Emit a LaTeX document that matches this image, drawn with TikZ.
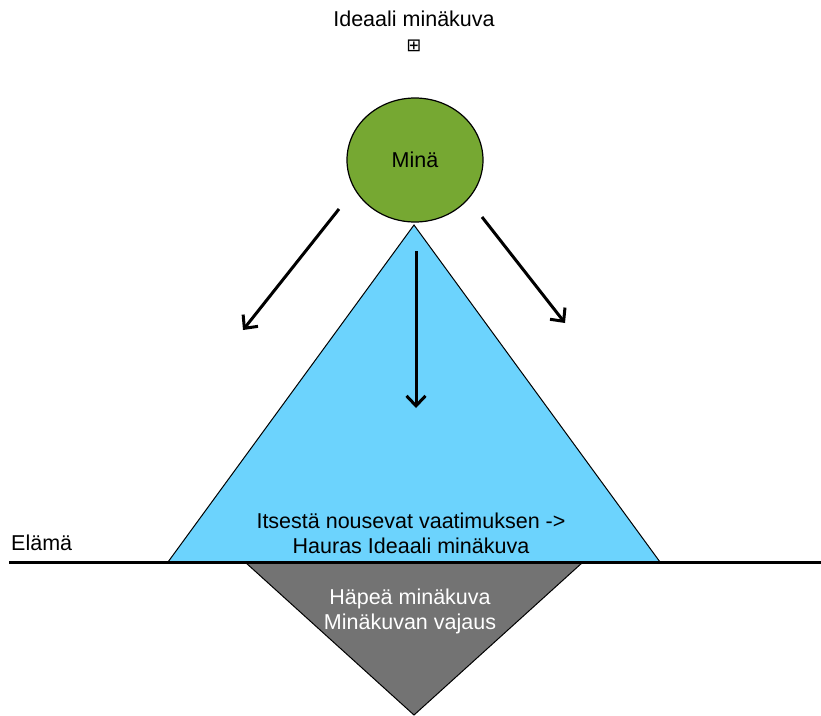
\documentclass[tikz,border=0pt]{standalone}
\usepackage{fontspec}
\setmainfont{Liberation Sans}
\newfontfamily\glyphfont{DejaVu Sans}
\usetikzlibrary{positioning,arrows.meta,shapes.geometric}
\definecolor{minagreen}{RGB}{118,168,50}
\definecolor{idealblue}{RGB}{108,211,253}
\definecolor{shamegray}{RGB}{115,115,115}
\tikzset{
  x=1pt,y=-1pt,
  >={Straight Barb[length=10pt,width=19pt]},
  lbl/.style={font=\fontsize{21.5}{25}\selectfont,inner sep=1pt,align=center},
  self/.style={ellipse,draw=black,line width=1.2pt,fill=minagreen,
    minimum width=136pt,minimum height=124pt,inner sep=0pt,
    font=\fontsize{21.5}{25}\selectfont},
  push/.style={->,line width=3pt},
  tri/.style={draw=black,line width=1pt},
  ground/.style={line width=3pt},
}
\begin{document}
\begin{tikzpicture}
  \useasboundingbox (0,0) rectangle (821,715);
  % triangles
  \fill[shamegray] (245,562) -- (583,562) -- (414,715) -- cycle;
  \draw[tri] (245,562) -- (414,715) -- (583,562);
  \draw[tri,fill=idealblue] (414,225) -- (660,562) -- (168,562) -- cycle;
  \coordinate (lifeL) at (9,562);
  \coordinate (lifeR) at (821,562);
  \draw[ground] (lifeL) -- (lifeR);
  % labels
  \node[lbl] (ideal) at (414,19) {Ideaali minäkuva};
  \node[inner sep=0pt,font=\glyphfont\fontsize{18}{18}\selectfont] (plus)
    at (414,46) {⊞};
  \node[self] (mina) at (415,160) {Minä};
  \node[lbl,anchor=west] (life) at (10,543) {Elämä};
  \node[lbl] (demand) at (411,533) {Itsestä nousevat vaatimuksen ->\\
    Hauras Ideaali minäkuva};
  \node[lbl,text=white] (shame) at (410,611) {Häpeä minäkuva\\
    Minäkuvan vajaus};
  % arrows
  \coordinate (aL0) at (339,209);  \coordinate (aL1) at (243,330);
  \coordinate (aM0) at (416,251);  \coordinate (aM1) at (416,408);
  \coordinate (aR0) at (482,217);  \coordinate (aR1) at (565,323);
  \draw[push] (aL0) -- (aL1);
  \draw[push] (aM0) -- (aM1);
  \draw[push] (aR0) -- (aR1);
\end{tikzpicture}
\end{document}
